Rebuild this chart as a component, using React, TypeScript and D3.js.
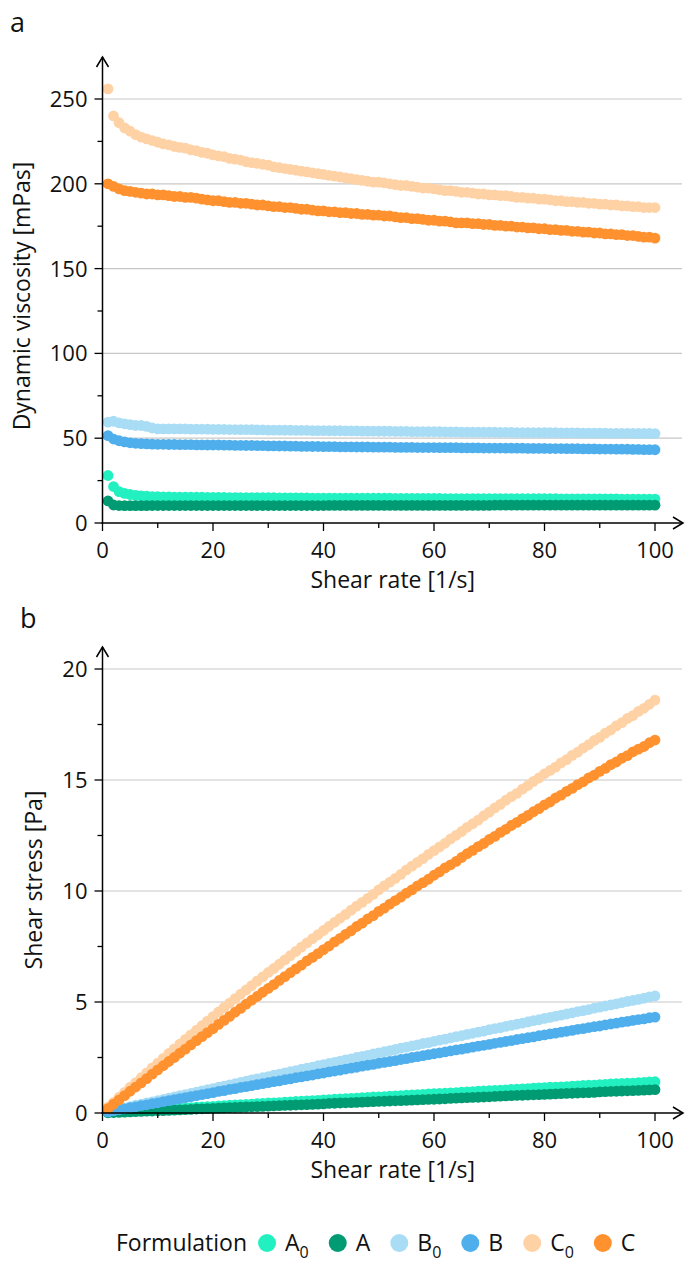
import React, { useEffect, useRef } from 'react';
import * as d3 from 'd3';

const width: number = 689;
const height: number = 1263;
const font: string = '"Open Sans", "DejaVu Sans", sans-serif';

// shear rate grid [1/s]
const shearRate: number[] = [
  1, 2, 3, 4, 5, 6, 7, 8, 9, 10, 11, 12, 13, 14, 15, 16, 17, 18, 19, 20,
  21, 22, 23, 24, 25, 26, 27, 28, 29, 30, 31, 32, 33, 34, 35, 36, 37, 38, 39, 40,
  41, 42, 43, 44, 45, 46, 47, 48, 49, 50, 51, 52, 53, 54, 55, 56, 57, 58, 59, 60,
  61, 62, 63, 64, 65, 66, 67, 68, 69, 70, 71, 72, 73, 74, 75, 76, 77, 78, 79, 80,
  81, 82, 83, 84, 85, 86, 87, 88, 89, 90, 91, 92, 93, 94, 95, 96, 97, 98, 99, 100];

// panel a: dynamic viscosity [mPas]
const viscA0: number[] = [
  28, 21.5, 18.5, 17.5, 16.8, 16.3, 16, 15.8, 15.6, 15.5,
  15.4, 15.4, 15.3, 15.3, 15.3, 15.2, 15.2, 15.2, 15.1, 15.1,
  15.1, 15.1, 15, 15, 15, 15, 14.9, 14.9, 14.9, 14.9,
  14.9, 14.8, 14.8, 14.8, 14.8, 14.8, 14.8, 14.7, 14.7, 14.7,
  14.7, 14.7, 14.7, 14.7, 14.6, 14.6, 14.6, 14.6, 14.6, 14.6,
  14.6, 14.6, 14.5, 14.5, 14.5, 14.5, 14.5, 14.5, 14.5, 14.5,
  14.5, 14.4, 14.4, 14.4, 14.4, 14.4, 14.4, 14.4, 14.4, 14.4,
  14.4, 14.3, 14.3, 14.3, 14.3, 14.3, 14.3, 14.3, 14.3, 14.3,
  14.3, 14.3, 14.2, 14.2, 14.2, 14.2, 14.2, 14.2, 14.2, 14.2,
  14.2, 14.2, 14.2, 14.1, 14.1, 14.1, 14.1, 14.1, 14.1, 14.1];

const viscA: number[] = [
  13, 10.6, 10.3, 10.2, 10.2, 10.2, 10.2, 10.2, 10.3, 10.3,
  10.3, 10.3, 10.3, 10.3, 10.3, 10.3, 10.3, 10.3, 10.3, 10.3,
  10.3, 10.3, 10.3, 10.3, 10.3, 10.3, 10.3, 10.3, 10.3, 10.3,
  10.3, 10.3, 10.3, 10.3, 10.3, 10.3, 10.3, 10.3, 10.3, 10.3,
  10.4, 10.4, 10.4, 10.4, 10.4, 10.4, 10.4, 10.4, 10.4, 10.4,
  10.4, 10.4, 10.4, 10.4, 10.4, 10.4, 10.4, 10.4, 10.4, 10.4,
  10.4, 10.4, 10.4, 10.4, 10.4, 10.4, 10.4, 10.4, 10.4, 10.4,
  10.5, 10.5, 10.5, 10.5, 10.5, 10.5, 10.5, 10.5, 10.5, 10.5,
  10.5, 10.5, 10.5, 10.5, 10.5, 10.5, 10.5, 10.5, 10.5, 10.5,
  10.5, 10.5, 10.5, 10.5, 10.5, 10.5, 10.5, 10.5, 10.5, 10.5];

const viscB0: number[] = [
  59.5, 60, 59, 58.5, 58, 57.5, 57.5, 57, 56, 55.5,
  55.5, 55.5, 55.5, 55.5, 55.5, 55.3, 55.3, 55.3, 55.3, 55.2,
  55.2, 55.2, 55.1, 55.1, 55, 55, 55, 54.9, 54.9, 54.8,
  54.8, 54.8, 54.7, 54.7, 54.6, 54.6, 54.6, 54.5, 54.5, 54.5,
  54.4, 54.4, 54.4, 54.3, 54.3, 54.3, 54.2, 54.2, 54.2, 54.1,
  54.1, 54.1, 54, 54, 54, 53.9, 53.9, 53.9, 53.8, 53.8,
  53.8, 53.7, 53.7, 53.7, 53.6, 53.6, 53.6, 53.5, 53.5, 53.5,
  53.5, 53.4, 53.4, 53.4, 53.3, 53.3, 53.3, 53.3, 53.2, 53.2,
  53.2, 53.2, 53.1, 53.1, 53.1, 53.1, 53, 53, 53, 53,
  53, 52.9, 52.9, 52.9, 52.9, 52.8, 52.8, 52.8, 52.8, 52.7];

const viscB: number[] = [
  51.5, 49.5, 48.5, 47.8, 47.3, 47, 46.8, 46.6, 46.5, 46.4,
  46.4, 46.3, 46.3, 46.2, 46.2, 46.2, 46.1, 46.1, 46, 46,
  46, 45.9, 45.9, 45.8, 45.8, 45.7, 45.7, 45.6, 45.6, 45.5,
  45.5, 45.4, 45.4, 45.3, 45.3, 45.2, 45.2, 45.1, 45.1, 45,
  45, 45, 44.9, 44.9, 44.9, 44.8, 44.8, 44.8, 44.7, 44.7,
  44.7, 44.7, 44.6, 44.6, 44.6, 44.6, 44.5, 44.5, 44.5, 44.5,
  44.4, 44.4, 44.4, 44.4, 44.3, 44.3, 44.3, 44.3, 44.2, 44.2,
  44.2, 44.2, 44.1, 44.1, 44.1, 44.1, 44, 44, 44, 44,
  43.9, 43.9, 43.9, 43.8, 43.8, 43.8, 43.7, 43.7, 43.7, 43.6,
  43.6, 43.6, 43.5, 43.5, 43.5, 43.4, 43.4, 43.3, 43.3, 43.2];

const viscC0: number[] = [
  256, 240, 236, 233, 231, 229, 227.5, 226.5, 225.5, 224.5,
  223.5, 223, 222, 221.5, 221, 220, 219.5, 218.5, 218, 217,
  216.5, 216, 215, 214.5, 214, 213, 212.5, 212, 211.5, 211,
  210, 209.5, 209, 208.5, 208, 207.5, 207, 206.5, 206, 205.5,
  205, 204.5, 204, 203.5, 203, 202.5, 202, 201.5, 201, 201,
  200.5, 200, 199.5, 199, 199, 198.5, 198, 197.5, 197.5, 197,
  196.5, 196, 196, 195.5, 195, 195, 194.5, 194, 194, 193.5,
  193.5, 193, 193, 192.5, 192, 192, 191.5, 191.5, 191, 191,
  190.5, 190, 190, 189.5, 189.5, 189, 189, 188.5, 188.5, 188,
  188, 187.5, 187.5, 187, 187, 186.5, 186.5, 186, 186, 186];

const viscC: number[] = [
  200, 198.5, 197, 196, 195.5, 195, 194.5, 194, 194, 193.5,
  193.5, 193, 192.5, 192.5, 192, 192, 191.5, 191, 190.5, 190,
  190, 189.5, 189, 189, 188.5, 188.5, 188, 187.5, 187.5, 187,
  186.5, 186.5, 186, 186, 185.5, 185, 185, 184.5, 184, 184,
  183.5, 183.5, 183, 183, 182.5, 182.5, 182, 182, 181.5, 181.5,
  181, 181, 180.5, 180, 180, 179.5, 179.5, 179, 178.5, 178.5,
  178, 178, 177.5, 177, 177, 177, 176.5, 176.5, 176, 176,
  175.5, 175.5, 175, 175, 174.5, 174.5, 174, 174, 173.5, 173.5,
  173, 173, 172.5, 172.5, 172, 172, 171.5, 171.5, 171, 171,
  170.5, 170.5, 170, 170, 169.5, 169.5, 169, 168.5, 168.5, 168];

// panel b: shear stress [Pa]
const stressA0: number[] = [
  0.03, 0.04, 0.06, 0.07, 0.08, 0.10, 0.11, 0.13, 0.14, 0.16,
  0.17, 0.18, 0.20, 0.21, 0.23, 0.24, 0.26, 0.27, 0.29, 0.30,
  0.32, 0.33, 0.35, 0.36, 0.38, 0.39, 0.40, 0.42, 0.43, 0.45,
  0.46, 0.47, 0.49, 0.50, 0.52, 0.53, 0.55, 0.56, 0.57, 0.59,
  0.60, 0.62, 0.63, 0.65, 0.66, 0.67, 0.69, 0.70, 0.72, 0.73,
  0.74, 0.76, 0.77, 0.78, 0.80, 0.81, 0.83, 0.84, 0.86, 0.87,
  0.88, 0.89, 0.91, 0.92, 0.94, 0.95, 0.96, 0.98, 0.99, 1.01,
  1.02, 1.03, 1.04, 1.06, 1.07, 1.09, 1.10, 1.12, 1.13, 1.14,
  1.16, 1.17, 1.18, 1.19, 1.21, 1.22, 1.24, 1.25, 1.26, 1.28,
  1.29, 1.31, 1.32, 1.33, 1.34, 1.35, 1.37, 1.38, 1.40, 1.41];

const stressA: number[] = [
  0.01, 0.02, 0.03, 0.04, 0.05, 0.06, 0.07, 0.08, 0.09, 0.10,
  0.11, 0.12, 0.13, 0.14, 0.15, 0.16, 0.18, 0.19, 0.20, 0.21,
  0.22, 0.23, 0.24, 0.25, 0.26, 0.27, 0.28, 0.29, 0.30, 0.31,
  0.32, 0.33, 0.34, 0.35, 0.36, 0.37, 0.38, 0.39, 0.40, 0.41,
  0.43, 0.44, 0.45, 0.46, 0.47, 0.48, 0.49, 0.50, 0.51, 0.52,
  0.53, 0.54, 0.55, 0.56, 0.57, 0.58, 0.59, 0.60, 0.61, 0.62,
  0.63, 0.64, 0.66, 0.67, 0.68, 0.69, 0.70, 0.71, 0.72, 0.73,
  0.75, 0.76, 0.77, 0.78, 0.79, 0.80, 0.81, 0.82, 0.83, 0.84,
  0.85, 0.86, 0.87, 0.88, 0.89, 0.90, 0.91, 0.92, 0.93, 0.95,
  0.96, 0.97, 0.98, 0.99, 1.00, 1.01, 1.02, 1.03, 1.04, 1.05];

const stressB0: number[] = [
  0.06, 0.12, 0.18, 0.23, 0.29, 0.35, 0.40, 0.46, 0.50, 0.56,
  0.61, 0.67, 0.72, 0.78, 0.83, 0.88, 0.94, 1.00, 1.05, 1.10,
  1.16, 1.21, 1.27, 1.32, 1.38, 1.43, 1.49, 1.54, 1.59, 1.64,
  1.70, 1.75, 1.81, 1.86, 1.91, 1.97, 2.02, 2.07, 2.13, 2.18,
  2.23, 2.28, 2.34, 2.39, 2.44, 2.50, 2.55, 2.60, 2.66, 2.71,
  2.76, 2.81, 2.86, 2.92, 2.97, 3.02, 3.07, 3.13, 3.17, 3.23,
  3.28, 3.33, 3.38, 3.44, 3.48, 3.54, 3.59, 3.64, 3.69, 3.75,
  3.80, 3.84, 3.90, 3.95, 4.00, 4.05, 4.10, 4.16, 4.20, 4.26,
  4.31, 4.36, 4.41, 4.46, 4.51, 4.57, 4.61, 4.66, 4.72, 4.77,
  4.82, 4.87, 4.92, 4.97, 5.03, 5.07, 5.12, 5.17, 5.23, 5.27];

const stressB: number[] = [
  0.05, 0.10, 0.15, 0.19, 0.24, 0.28, 0.33, 0.37, 0.42, 0.46,
  0.51, 0.56, 0.60, 0.65, 0.69, 0.74, 0.78, 0.83, 0.87, 0.92,
  0.97, 1.01, 1.06, 1.10, 1.15, 1.19, 1.23, 1.28, 1.32, 1.37,
  1.41, 1.45, 1.50, 1.54, 1.59, 1.63, 1.67, 1.71, 1.76, 1.80,
  1.85, 1.89, 1.93, 1.98, 2.02, 2.06, 2.11, 2.15, 2.19, 2.24,
  2.28, 2.32, 2.36, 2.41, 2.45, 2.50, 2.54, 2.58, 2.63, 2.67,
  2.71, 2.75, 2.80, 2.84, 2.88, 2.92, 2.97, 3.01, 3.05, 3.09,
  3.14, 3.18, 3.22, 3.26, 3.31, 3.35, 3.39, 3.43, 3.48, 3.52,
  3.56, 3.60, 3.64, 3.68, 3.72, 3.77, 3.80, 3.85, 3.89, 3.92,
  3.97, 4.01, 4.05, 4.09, 4.13, 4.17, 4.21, 4.24, 4.29, 4.32];

const stressC0: number[] = [
  0.26, 0.48, 0.71, 0.93, 1.16, 1.37, 1.59, 1.81, 2.03, 2.25,
  2.46, 2.68, 2.89, 3.10, 3.32, 3.52, 3.73, 3.93, 4.14, 4.34,
  4.55, 4.75, 4.95, 5.15, 5.35, 5.54, 5.74, 5.94, 6.13, 6.33,
  6.51, 6.70, 6.90, 7.09, 7.28, 7.47, 7.66, 7.85, 8.03, 8.22,
  8.41, 8.59, 8.77, 8.95, 9.14, 9.32, 9.49, 9.67, 9.85, 10.05,
  10.23, 10.40, 10.57, 10.75, 10.95, 11.12, 11.29, 11.46, 11.65, 11.82,
  11.99, 12.15, 12.35, 12.51, 12.68, 12.87, 13.03, 13.19, 13.39, 13.55,
  13.74, 13.90, 14.09, 14.25, 14.40, 14.59, 14.75, 14.94, 15.09, 15.28,
  15.43, 15.58, 15.77, 15.92, 16.11, 16.25, 16.44, 16.59, 16.78, 16.92,
  17.11, 17.25, 17.44, 17.58, 17.77, 17.90, 18.09, 18.23, 18.41, 18.60];

const stressC: number[] = [
  0.20, 0.40, 0.59, 0.78, 0.98, 1.17, 1.36, 1.55, 1.75, 1.94,
  2.13, 2.32, 2.50, 2.70, 2.88, 3.07, 3.26, 3.44, 3.62, 3.80,
  3.99, 4.17, 4.35, 4.54, 4.71, 4.90, 5.08, 5.25, 5.44, 5.61,
  5.78, 5.97, 6.14, 6.32, 6.49, 6.66, 6.85, 7.01, 7.18, 7.36,
  7.52, 7.71, 7.87, 8.05, 8.21, 8.40, 8.55, 8.74, 8.89, 9.08,
  9.23, 9.41, 9.57, 9.72, 9.90, 10.05, 10.23, 10.38, 10.53, 10.71,
  10.86, 11.04, 11.18, 11.33, 11.51, 11.68, 11.83, 12.00, 12.14, 12.32,
  12.46, 12.64, 12.78, 12.95, 13.09, 13.26, 13.40, 13.57, 13.71, 13.88,
  14.01, 14.19, 14.32, 14.49, 14.62, 14.79, 14.92, 15.09, 15.22, 15.39,
  15.52, 15.69, 15.81, 15.98, 16.10, 16.27, 16.39, 16.51, 16.68, 16.80];

// legend: letter + subscript
const formulations: string[][] = [['A', '0'], ['A', ''], ['B', '0'], ['B', ''], ['C', '0'], ['C', '']];
const colors: string[] = ['#22f0c0', '#009b72', '#a9dcf5', '#4fafec', '#ffd2a6', '#ff912f'];

const rateTicks: number[] = [0, 20, 40, 60, 80, 100];
const rateMinor: number[] = [10, 30, 50, 70, 90];
const viscTicks: number[] = [0, 50, 100, 150, 200, 250];
const viscMinor: number[] = [25, 75, 125, 175, 225];
const stressTicks: number[] = [0, 5, 10, 15, 20];
const stressMinor: number[] = [2.5, 7.5, 12.5, 17.5];

const tickSize: number = 22;
const titleSize: number = 23;

const drawPanel = (svg: any, p: any) => {
  const xScale: any = d3.scaleLinear().domain([0, 100]).range([102.5, 655]);
  const yScale: any = d3.scaleLinear().domain([0, p.yMax]).range([p.y0, p.yTop]);
  const ax: number = xScale(0);
  const ay: number = yScale(0);
  const xEnd: number = 683;
  const g: any = svg.append('g');

  // panel letter
  g.append('text').attr('x', p.letterX).attr('y', p.letterY)
    .attr('font-size', 27).text(p.letter);

  // gridlines
  g.selectAll('.grid').data(p.yTicks.filter((d: number) => d > 0)).enter()
    .append('line').attr('class', 'grid')
    .attr('x1', ax).attr('x2', 682)
    .attr('y1', (d: number) => yScale(d)).attr('y2', (d: number) => yScale(d))
    .attr('stroke', '#c8c8c8').attr('stroke-width', 1.2);

  // data points
  p.series.forEach((s: number[], i: number) => {
    g.append('g').selectAll('circle').data(s).enter().append('circle')
      .attr('cx', (d: number, j: number) => xScale(shearRate[j]))
      .attr('cy', (d: number) => yScale(d))
      .attr('r', 5.4)
      .attr('fill', colors[i]);
  });

  // axis lines + arrows
  g.append('line').attr('x1', ax).attr('x2', ax).attr('y1', ay + 1).attr('y2', p.arrowTop)
    .attr('stroke', '#000').attr('stroke-width', 1.5);
  g.append('path').attr('d', `M${ax - 6},${p.arrowTop + 10}L${ax},${p.arrowTop}L${ax + 6},${p.arrowTop + 10}`)
    .attr('fill', 'none').attr('stroke', '#000').attr('stroke-width', 1.5);
  g.append('line').attr('x1', ax - 1).attr('x2', xEnd).attr('y1', ay).attr('y2', ay)
    .attr('stroke', '#000').attr('stroke-width', 1.5);
  g.append('path').attr('d', `M${xEnd - 10},${ay - 6}L${xEnd},${ay}L${xEnd - 10},${ay + 6}`)
    .attr('fill', 'none').attr('stroke', '#000').attr('stroke-width', 1.5);

  // y ticks
  g.selectAll('.ytick').data(p.yTicks).enter().append('line').attr('class', 'ytick')
    .attr('x1', ax - 8).attr('x2', ax)
    .attr('y1', (d: number) => yScale(d)).attr('y2', (d: number) => yScale(d))
    .attr('stroke', '#000').attr('stroke-width', 1.3);
  g.selectAll('.yminor').data(p.yMinor).enter().append('line').attr('class', 'yminor')
    .attr('x1', ax - 5).attr('x2', ax)
    .attr('y1', (d: number) => yScale(d)).attr('y2', (d: number) => yScale(d))
    .attr('stroke', '#000').attr('stroke-width', 1.3);
  g.selectAll('.ylabel').data(p.yTicks).enter().append('text').attr('class', 'ylabel')
    .attr('x', ax - 15).attr('y', (d: number) => yScale(d)).attr('dy', '0.36em')
    .attr('text-anchor', 'end').attr('font-size', tickSize).text((d: number) => d);

  // x ticks
  g.selectAll('.xtick').data(rateTicks).enter().append('line').attr('class', 'xtick')
    .attr('x1', (d: number) => xScale(d)).attr('x2', (d: number) => xScale(d))
    .attr('y1', ay).attr('y2', ay + 8)
    .attr('stroke', '#000').attr('stroke-width', 1.3);
  g.selectAll('.xminor').data(rateMinor).enter().append('line').attr('class', 'xminor')
    .attr('x1', (d: number) => xScale(d)).attr('x2', (d: number) => xScale(d))
    .attr('y1', ay).attr('y2', ay + 5)
    .attr('stroke', '#000').attr('stroke-width', 1.3);
  g.selectAll('.xlabel').data(rateTicks).enter().append('text').attr('class', 'xlabel')
    .attr('x', (d: number) => xScale(d)).attr('y', ay + 35)
    .attr('text-anchor', 'middle').attr('font-size', tickSize).text((d: number) => d);

  // axis titles
  g.append('text').attr('x', (ax + xEnd) / 2).attr('y', ay + 65)
    .attr('text-anchor', 'middle').attr('font-size', titleSize).text('Shear rate [1/s]');
  g.append('text')
    .attr('transform', `translate(${p.titleX},${p.titleY}) rotate(-90)`)
    .attr('text-anchor', 'middle').attr('font-size', titleSize).text(p.yTitle);
};

export default function App() {
  const ref = useRef<SVGSVGElement>(null);

  useEffect(() => {
    document.body.style.margin = '0';
    const svg: any = d3.select(ref.current);
    svg.selectAll('*').remove();
    svg.attr('font-family', font).attr('fill', '#111');

    drawPanel(svg, {
      letter: 'a', letterX: 10, letterY: 32,
      yMax: 250, y0: 523, yTop: 99, arrowTop: 57,
      yTicks: viscTicks, yMinor: viscMinor,
      yTitle: 'Dynamic viscosity [mPas]', titleX: 30, titleY: 296,
      series: [viscA0, viscA, viscB0, viscB, viscC0, viscC],
    });
    drawPanel(svg, {
      letter: 'b', letterX: 20, letterY: 628,
      yMax: 20, y0: 1113, yTop: 669, arrowTop: 647,
      yTicks: stressTicks, yMinor: stressMinor,
      yTitle: 'Shear stress [Pa]', titleX: 42, titleY: 880,
      series: [stressA0, stressA, stressB0, stressB, stressC0, stressC],
    });

    // legend
    const legendY: number = 1251;
    const lg: any = svg.append('g');
    const title: any = lg.append('text').attr('x', 116).attr('y', legendY)
      .attr('font-size', titleSize).text('Formulation');
    let cursor: number = 116 + title.node().getComputedTextLength() + 11;
    formulations.forEach((f: string[], i: number) => {
      lg.append('circle').attr('cx', cursor + 9).attr('cy', legendY - 8).attr('r', 9)
        .attr('fill', colors[i]);
      const t: any = lg.append('text').attr('x', cursor + 27).attr('y', legendY)
        .attr('font-size', titleSize).text(f[0]);
      if (f[1]) {
        t.append('tspan').attr('dy', 7).attr('font-size', 16).text(f[1]);
      }
      cursor = cursor + 27 + t.node().getComputedTextLength() + 20;
    });
  }, []);

  return <svg ref={ref} width={width} height={height} style={{ display: 'block' }} />;
}
